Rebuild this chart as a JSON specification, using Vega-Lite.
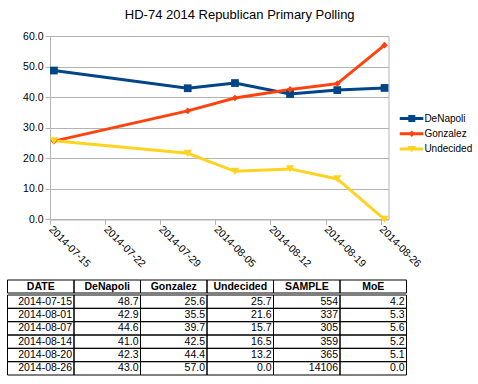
{
  "$schema": "https://vega.github.io/schema/vega-lite/v6.json",
  "background": "white",
  "padding": {"left": 7, "top": 8, "right": 5, "bottom": 5},
  "title": {"text": "HD-74 2014 Republican Primary Polling", "font": "Liberation Sans", "fontSize": 13, "fontWeight": "normal", "color": "black", "anchor": "middle", "offset": 9},
  "config": {
    "font": "Liberation Sans",
    "axis": {"labelFont": "Liberation Sans", "labelColor": "black"}
  },
  "datasets": {
    "polls": [
      {"DATE": "2014-07-15", "DeNapoli": 48.7, "Gonzalez": 25.6, "Undecided": 25.7, "SAMPLE": 554, "MoE": 4.2},
      {"DATE": "2014-08-01", "DeNapoli": 42.9, "Gonzalez": 35.5, "Undecided": 21.6, "SAMPLE": 337, "MoE": 5.3},
      {"DATE": "2014-08-07", "DeNapoli": 44.6, "Gonzalez": 39.7, "Undecided": 15.7, "SAMPLE": 305, "MoE": 5.6},
      {"DATE": "2014-08-14", "DeNapoli": 41.0, "Gonzalez": 42.5, "Undecided": 16.5, "SAMPLE": 359, "MoE": 5.2},
      {"DATE": "2014-08-20", "DeNapoli": 42.3, "Gonzalez": 44.4, "Undecided": 13.2, "SAMPLE": 365, "MoE": 5.1},
      {"DATE": "2014-08-26", "DeNapoli": 43.0, "Gonzalez": 57.0, "Undecided": 0.0, "SAMPLE": 14106, "MoE": 0.0}
    ],
    "header": [
      {"col": "DATE"}, {"col": "DeNapoli"}, {"col": "Gonzalez"}, {"col": "Undecided"}, {"col": "SAMPLE"}, {"col": "MoE"}
    ]
  },
  "spacing": 9,
  "vconcat": [
    {
      "width": 338.5,
      "height": 183.3,
      "view": {"stroke": "#b3b3b3", "strokeWidth": 1},
      "data": {"name": "polls"},
      "transform": [{"fold": ["DeNapoli", "Gonzalez", "Undecided"], "as": ["candidate", "pct"]}],
      "encoding": {
        "x": {
          "field": "DATE", "type": "temporal",
          "scale": {"type": "utc", "domain": [{"year": 2014, "month": 7, "date": 15, "utc": true}, {"year": 2014, "month": 8, "date": 27, "utc": true}]},
          "axis": {
            "title": null, "grid": false,
            "values": [
              {"year": 2014, "month": 7, "date": 15, "utc": true},
              {"year": 2014, "month": 7, "date": 22, "utc": true},
              {"year": 2014, "month": 7, "date": 29, "utc": true},
              {"year": 2014, "month": 8, "date": 5, "utc": true},
              {"year": 2014, "month": 8, "date": 12, "utc": true},
              {"year": 2014, "month": 8, "date": 19, "utc": true},
              {"year": 2014, "month": 8, "date": 26, "utc": true}
            ],
            "format": "%Y-%m-%d", "labelAngle": 45, "labelAlign": "left", "labelBaseline": "middle",
            "labelFontSize": 10.5, "labelPadding": 3, "labelOverlap": false, "labelFlush": false,
            "tickSize": 5, "tickColor": "#b3b3b3", "domainColor": "#b3b3b3"
          }
        },
        "y": {
          "field": "pct", "type": "quantitative",
          "scale": {"domain": [0, 60], "nice": false},
          "axis": {
            "title": null, "values": [0, 10, 20, 30, 40, 50, 60], "format": ".1f",
            "labelFontSize": 10.5, "labelPadding": 2, "tickSize": 5, "tickColor": "#b3b3b3",
            "domainColor": "#b3b3b3", "gridColor": "#b3b3b3", "gridOpacity": 1, "minExtent": 42.5, "maxExtent": 42.5
          }
        },
        "color": {
          "field": "candidate", "type": "nominal",
          "scale": {"domain": ["DeNapoli", "Gonzalez", "Undecided"], "range": ["#004586", "#ff420e", "#ffd320"]},
          "legend": {
            "title": null, "orient": "none", "legendX": 349.4, "legendY": 76,
            "labelFontSize": 10, "labelColor": "black", "labelFont": "Liberation Sans",
            "symbolSize": 150, "labelOffset": 12, "rowPadding": 3.3,
            "encode": {
              "symbols": {
                "update": {
                  "shape": {"signal": "datum.value === 'DeNapoli' ? 'M-1,-0.245H2.85V0.245H-1Z M0.392,-0.571H1.534V0.571H0.392Z' : datum.value === 'Gonzalez' ? 'M-1,-0.245H2.85V0.245H-1Z M0.963,-0.539L1.502,0L0.963,0.539L0.424,0Z' : 'M-1,-0.245H2.85V0.245H-1Z M0.228,-0.49H1.698L0.963,0.52Z'"},
                  "fill": {"signal": "scale('color', datum.value)"},
                  "fillOpacity": {"value": 1},
                  "strokeWidth": {"value": 0}
                }
              }
            }
          }
        }
      },
      "layer": [
        {"mark": {"type": "line", "strokeWidth": 3, "xOffset": 3.9}},
        {
          "transform": [{"filter": {"field": "candidate", "equal": "DeNapoli"}}],
          "mark": {"type": "point", "shape": "square", "size": 60, "filled": true, "opacity": 1, "xOffset": 3.9}
        },
        {
          "transform": [{"filter": {"field": "candidate", "equal": "Gonzalez"}}],
          "mark": {"type": "point", "shape": "diamond", "size": 45, "filled": true, "opacity": 1, "xOffset": 3.9}
        },
        {
          "transform": [{"filter": {"field": "candidate", "equal": "Undecided"}}],
          "mark": {"type": "point", "shape": "triangle-down", "size": 70, "filled": true, "opacity": 1, "xOffset": 3.9}
        }
      ]
    },
    {
      "spacing": 0,
      "vconcat": [
        {
          "width": 356.5,
          "height": 13,
          "view": {"stroke": null},
          "data": {"name": "header"},
          "encoding": {
            "x": {"field": "col", "type": "nominal", "sort": null,
              "scale": {"type": "band", "domain": ["DATE", "DeNapoli", "Gonzalez", "Undecided", "SAMPLE", "MoE"], "range": [-42.5, 356.5], "paddingInner": 0, "paddingOuter": 0},
              "axis": null},
            "y": {"datum": "h", "type": "nominal", "scale": {"type": "band", "paddingInner": 0, "paddingOuter": 0}, "axis": null}
          },
          "layer": [
            {"mark": {"type": "rect", "fillOpacity": 0, "stroke": "black", "strokeWidth": 1, "strokeOpacity": 1}},
            {"mark": {"type": "text", "fontWeight": "bold", "fontSize": 10.5, "color": "black", "align": "center", "baseline": "middle"},
             "encoding": {"text": {"field": "col", "type": "nominal"}}}
          ]
        },
        {
          "width": 356.5,
          "height": 80,
          "view": {"stroke": null},
          "data": {"name": "polls"},
          "encoding": {
            "y": {"field": "DATE", "type": "ordinal", "timeUnit": "utcyearmonthdate",
              "scale": {"type": "band", "paddingInner": 0, "paddingOuter": 0}, "axis": null}
          },
          "layer": [
            {
              "mark": {"type": "rect", "fillOpacity": 0, "stroke": "black", "strokeWidth": 1, "strokeOpacity": 1},
              "encoding": {"x": {"datum": "DATE", "type": "nominal",
                "scale": {"type": "band", "domain": ["DATE", "DeNapoli", "Gonzalez", "Undecided", "SAMPLE", "MoE"], "range": [-42.5, 356.5], "paddingInner": 0, "paddingOuter": 0},
                "axis": null}}
            },
            {"mark": {"type": "rect", "fillOpacity": 0, "stroke": "black", "strokeWidth": 1, "strokeOpacity": 1},
             "encoding": {"x": {"datum": "DeNapoli", "type": "nominal", "axis": null}}},
            {"mark": {"type": "rect", "fillOpacity": 0, "stroke": "black", "strokeWidth": 1, "strokeOpacity": 1},
             "encoding": {"x": {"datum": "Gonzalez", "type": "nominal", "axis": null}}},
            {"mark": {"type": "rect", "fillOpacity": 0, "stroke": "black", "strokeWidth": 1, "strokeOpacity": 1},
             "encoding": {"x": {"datum": "Undecided", "type": "nominal", "axis": null}}},
            {"mark": {"type": "rect", "fillOpacity": 0, "stroke": "black", "strokeWidth": 1, "strokeOpacity": 1},
             "encoding": {"x": {"datum": "SAMPLE", "type": "nominal", "axis": null}}},
            {"mark": {"type": "rect", "fillOpacity": 0, "stroke": "black", "strokeWidth": 1, "strokeOpacity": 1},
             "encoding": {"x": {"datum": "MoE", "type": "nominal", "axis": null}}},
            {
              "mark": {"type": "text", "fontSize": 10.5, "color": "black", "align": "right", "baseline": "middle", "dx": -2},
              "encoding": {
                "x": {"datum": "DATE", "type": "nominal", "bandPosition": 1, "axis": null},
                "text": {"field": "DATE", "type": "temporal", "timeUnit": "utcyearmonthdate", "format": "%Y-%m-%d"}
              }
            },
            {
              "mark": {"type": "text", "fontSize": 10.5, "color": "black", "align": "right", "baseline": "middle", "dx": -2},
              "encoding": {
                "x": {"datum": "DeNapoli", "type": "nominal", "bandPosition": 1, "axis": null},
                "text": {"field": "DeNapoli", "type": "quantitative", "format": ".1f"}
              }
            },
            {
              "mark": {"type": "text", "fontSize": 10.5, "color": "black", "align": "right", "baseline": "middle", "dx": -2},
              "encoding": {
                "x": {"datum": "Gonzalez", "type": "nominal", "bandPosition": 1, "axis": null},
                "text": {"field": "Gonzalez", "type": "quantitative", "format": ".1f"}
              }
            },
            {
              "mark": {"type": "text", "fontSize": 10.5, "color": "black", "align": "right", "baseline": "middle", "dx": -2},
              "encoding": {
                "x": {"datum": "Undecided", "type": "nominal", "bandPosition": 1, "axis": null},
                "text": {"field": "Undecided", "type": "quantitative", "format": ".1f"}
              }
            },
            {
              "mark": {"type": "text", "fontSize": 10.5, "color": "black", "align": "right", "baseline": "middle", "dx": -2},
              "encoding": {
                "x": {"datum": "SAMPLE", "type": "nominal", "bandPosition": 1, "axis": null},
                "text": {"field": "SAMPLE", "type": "quantitative", "format": "d"}
              }
            },
            {
              "mark": {"type": "text", "fontSize": 10.5, "color": "black", "align": "right", "baseline": "middle", "dx": -2},
              "encoding": {
                "x": {"datum": "MoE", "type": "nominal", "bandPosition": 1, "axis": null},
                "text": {"field": "MoE", "type": "quantitative", "format": ".1f"}
              }
            }
          ]
        }
      ]
    }
  ]
}
